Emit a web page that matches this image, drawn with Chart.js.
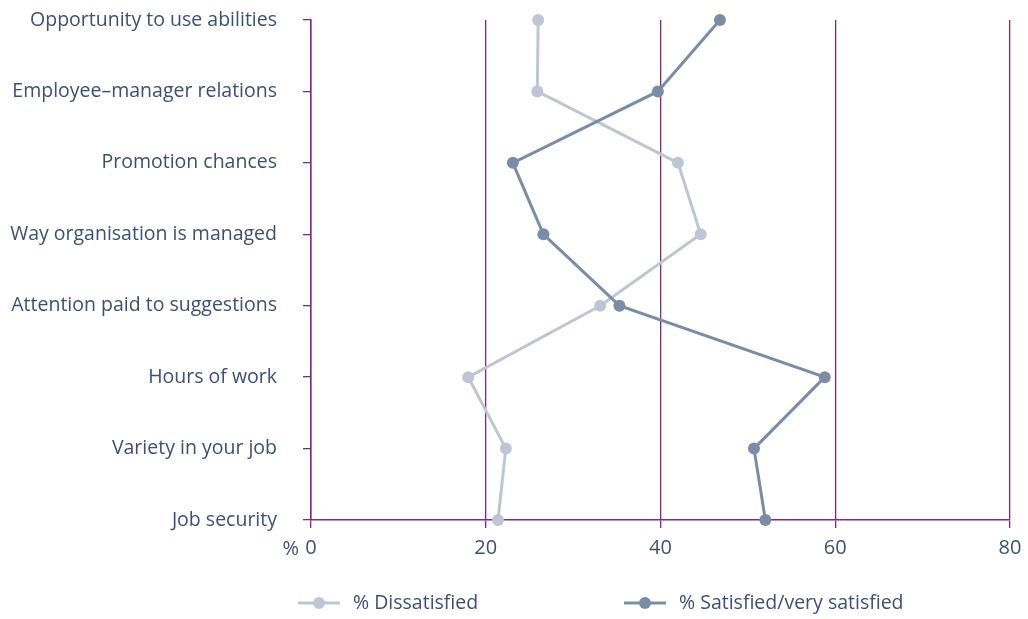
<!DOCTYPE html>
<html>
<head>
<meta charset="utf-8">
<script src="https://cdn.jsdelivr.net/npm/chart.js@4/dist/chart.umd.min.js"></script>
<style>
  html, body { margin: 0; padding: 0; background: #ffffff; }
  #wrap { width: 1028px; height: 619px; position: relative; }
</style>
</head>
<body>
<div id="wrap"><canvas id="c" width="1028" height="619"></canvas></div>
<script>
// Job satisfaction aspects, listed top to bottom
const categories = [
  'Opportunity to use abilities',
  'Employee\u2013manager relations',
  'Promotion chances',
  'Way organisation is managed',
  'Attention paid to suggestions',
  'Hours of work',
  'Variety in your job',
  'Job security'
];
const dissatisfied = [26.0, 25.9, 42.0, 44.6, 33.1, 18.0, 22.3, 21.4];
const satisfied    = [46.8, 39.7, 23.1, 26.6, 35.3, 58.8, 50.7, 52.0];
const xTicks = [0, 20, 40, 60, 80];

const TEXT = '#3d4f76';
const AXIS = '#7e2a7f';
const LIGHT = '#bdc6d3';
const DARK = '#7b8ca6';
const FONT = "'Open Sans', 'Noto Sans', sans-serif";

// Legend row: a short line with a dot, followed by the series name
const legendRow = {
  id: 'legendRow',
  afterDraw(chart) {
    const ctx = chart.ctx;
    const y = 603;
    const starts = [298, 624];
    ctx.save();
    chart.data.datasets.forEach((ds, i) => {
      const x = starts[i];
      ctx.strokeStyle = ds.borderColor;
      ctx.lineWidth = 3;
      ctx.beginPath();
      ctx.moveTo(x, y);
      ctx.lineTo(x + 42, y);
      ctx.stroke();
      ctx.fillStyle = ds.pointBackgroundColor;
      ctx.beginPath();
      ctx.arc(x + 21, y, 6, 0, Math.PI * 2);
      ctx.fill();
      ctx.fillStyle = TEXT;
      ctx.font = '19.5px ' + FONT;
      ctx.textAlign = 'left';
      ctx.textBaseline = 'middle';
      ctx.fillText(ds.label, x + 55, y);
    });
    // unit sign in front of the zero tick
    const xs = chart.scales.x;
    ctx.font = '20px ' + FONT;
    ctx.textAlign = 'right';
    ctx.textBaseline = 'middle';
    ctx.fillText('%', xs.getPixelForValue(0) - 12, xs.top + 29);
    ctx.restore();
  }
};

new Chart(document.getElementById('c'), {
  type: 'line',
  data: {
    labels: categories,
    datasets: [
      {
        label: '% Dissatisfied',
        data: dissatisfied,
        borderColor: LIGHT,
        backgroundColor: LIGHT,
        pointBackgroundColor: LIGHT,
        pointBorderColor: LIGHT,
        borderWidth: 3,
        pointRadius: 6,
        pointBorderWidth: 0,
        tension: 0,
        clip: false,
        order: 1
      },
      {
        label: '% Satisfied/very satisfied',
        data: satisfied,
        borderColor: DARK,
        backgroundColor: DARK,
        pointBackgroundColor: DARK,
        pointBorderColor: DARK,
        borderWidth: 3,
        pointRadius: 6,
        pointBorderWidth: 0,
        tension: 0,
        clip: false,
        order: 0
      }
    ]
  },
  options: {
    indexAxis: 'y',
    responsive: false,
    animation: false,
    layout: { padding: { top: 20, right: 18, bottom: 51, left: 0 } },
    plugins: {
      legend: { display: false },
      tooltip: { enabled: false }
    },
    scales: {
      x: {
        type: 'linear',
        min: 0,
        max: 80,
        z: 1,
        afterBuildTicks(scale) {
          scale.ticks = xTicks.map(v => ({ value: v }));
        },
        afterFit(scale) {
          scale.paddingLeft = 0;
          scale.paddingRight = 0;
        },
        grid: {
          color: AXIS,
          lineWidth: 1.3,
          drawTicks: true,
          tickLength: 8,
          tickColor: AXIS
        },
        border: { color: AXIS, width: 1.5 },
        ticks: {
          color: TEXT,
          font: { family: FONT, size: 20 },
          padding: 8,
          maxRotation: 0
        }
      },
      y: {
        type: 'category',
        offset: false,
        afterFit(scale) {
          scale.width = 311;
          scale.paddingTop = 0;
          scale.paddingBottom = 0;
        },
        grid: {
          drawOnChartArea: false,
          drawTicks: true,
          tickLength: 8,
          tickColor: AXIS,
          lineWidth: 1.3
        },
        border: { color: AXIS, width: 1.5 },
        ticks: {
          color: TEXT,
          font: { family: FONT, size: 19.5 },
          padding: 26,
          autoSkip: false
        }
      }
    }
  },
  plugins: [legendRow]
});
</script>
</body>
</html>
